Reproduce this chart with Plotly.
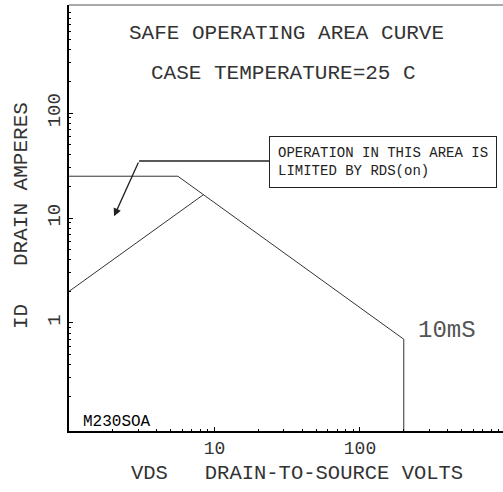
"""
Safe operating area curve (datasheet style), log-log.
"""
import math
import plotly.graph_objects as go

# 10 ms SOA boundary: current limit, power limit, voltage limit
soa_vds = [1, 5.6, 200, 200]
soa_id = [25, 25, 0.7, 0.09]

# RDS(on) limit line
rds_vds = [1, 8.4]
rds_id = [2.0, 16.7]

# leader line for the RDS(on) note (box edge -> bend -> arrow tip)
leader_vds = [24.1, 3.03]
leader_id = [34.9, 34.9]
arrow_tip = (2.04, 10.4)

x_ticks = [10, 100]
x_ticklabels = ["10", "100"]
y_ticks = [1, 10, 100]
y_ticklabels = ["1", "10", "100"]

FONT = "Liberation Mono"
INK = "#333"
NBSP = "\u00a0"


def minor_vals(lo, hi):
    return [m * 10 ** d for d in range(lo, hi) for m in range(2, 10)]


def label(text, x, y, size, color=INK, **kw):
    fig.add_annotation(text=text, x=x, y=y, xref="paper", yref="paper",
                       xanchor="center", yanchor="middle", showarrow=False,
                       font=dict(family=FONT, size=size, color=color), **kw)


fig = go.Figure()
fig.add_trace(go.Scatter(x=soa_vds, y=soa_id, mode="lines",
                         line=dict(color="#333", width=1), hoverinfo="skip"))
fig.add_trace(go.Scatter(x=rds_vds, y=rds_id, mode="lines",
                         line=dict(color="#333", width=1), hoverinfo="skip"))
fig.add_trace(go.Scatter(x=leader_vds, y=leader_id, mode="lines",
                         line=dict(color="#222", width=1.3), hoverinfo="skip"))

fig.add_annotation(x=math.log10(arrow_tip[0]), y=math.log10(arrow_tip[1]),
                   ax=math.log10(leader_vds[-1]), ay=math.log10(leader_id[-1]),
                   xref="x", yref="y", axref="x", ayref="y", text="",
                   showarrow=True, arrowhead=2, arrowsize=1.2, arrowwidth=1.3,
                   arrowcolor="#222")

label("SAFE OPERATING AREA CURVE", 0.502, 0.934, 21)
label("CASE TEMPERATURE=25 C", 0.495, 0.840, 21)
label("OPERATION IN THIS AREA IS<br>LIMITED BY RDS(on)", 0.7235, 0.631, 14,
      color="#222", align="left", bordercolor="#222", borderwidth=1,
      borderpad=8, bgcolor="white")
label("10mS", 0.871, 0.237, 24, color="#555")
label("M230SOA", 0.111, 0.021, 16, color="black")

# axis titles, placed as in the original sheet
label("VDS" + NBSP * 3 + "DRAIN-TO-SOURCE VOLTS", 0.525, -0.099, 20.5,
      borderpad=0)
label("ID" + NBSP * 3 + "DRAIN AMPERES", -0.108, 0.505, 21, textangle=-90)

# top frame line
fig.add_shape(type="line", xref="paper", yref="paper", x0=0, x1=1, y0=1, y1=1,
              line=dict(color="#555", width=1))

fig.update_xaxes(
    type="log", range=[0, 2.983], automargin=False,
    tickmode="array", tickvals=x_ticks, ticktext=x_ticklabels,
    ticks="inside", ticklen=4, tickcolor="black",
    minor=dict(tickmode="array", tickvals=minor_vals(0, 3), ticks="inside",
               ticklen=2, tickcolor="black", showgrid=False),
    showline=True, linecolor="black", linewidth=1.5,
    showgrid=False, zeroline=False,
    tickfont=dict(family=FONT, size=18, color=INK),
)
fig.update_yaxes(
    type="log", range=[-1.029, 3.029], automargin=False,
    tickmode="array", tickvals=y_ticks, ticktext=y_ticklabels, tickangle=-90,
    ticks="inside", ticklen=4, tickcolor="black",
    minor=dict(tickmode="array", tickvals=minor_vals(-1, 3), ticks="inside",
               ticklen=2, tickcolor="black", showgrid=False),
    showline=True, linecolor="black", linewidth=1.5,
    showgrid=False, zeroline=False,
    tickfont=dict(family=FONT, size=19, color=INK),
)
fig.update_layout(
    width=503, height=492,
    margin=dict(l=69, r=0, t=5, b=61),
    paper_bgcolor="white", plot_bgcolor="white",
    showlegend=False,
)

# drop the browser's default body margin so the figure sits at the page corner
fig.write_html("out.html", config={"displayModeBar": False},
               post_script="document.body.style.margin='0';")
